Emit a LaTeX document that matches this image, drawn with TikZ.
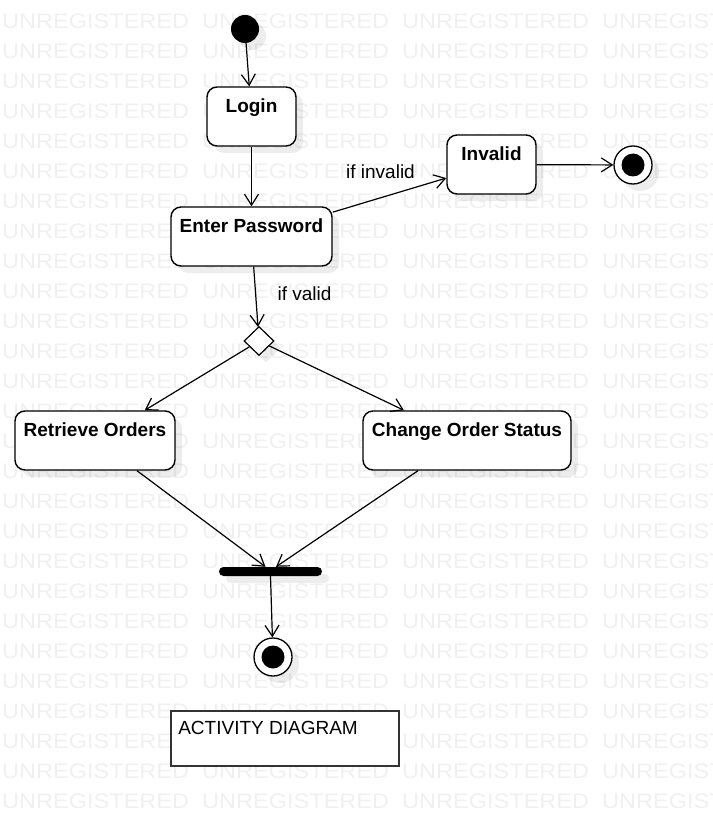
\documentclass[tikz,border=0pt]{standalone}
\usepackage{fontspec}
\setmainfont{Liberation Sans}
\usepackage{tikz}
\usetikzlibrary{arrows.meta}
\usetikzlibrary{shapes.geometric, shadows}
\tikzset{
  wmark/.style={text=black!6, font=\fontsize{21}{21}\selectfont, xscale=1.12, anchor=west, inner sep=0pt},
  soft/.style={drop shadow={shadow xshift=7pt, shadow yshift=-7pt, opacity=0.07, fill=black}},
  activity/.style={draw, line width=1.4pt, rounded corners=10pt, fill=white, soft, minimum height=59pt},
  title/.style={inner sep=0pt, anchor=north, yshift=-12pt, font=\fontsize{19}{19}\selectfont\bfseries},
  guard/.style={inner sep=0pt, font=\fontsize{19}{19}\selectfont},
  flow/.style={line width=1.2pt, arrows={-Straight Barb[length=11pt, width=14pt]}},
}

\begin{document}
\begin{tikzpicture}[x=1pt, y=-1pt]
    \useasboundingbox (0,0) rectangle (712,826);
    \clip (0,0) rectangle (712,826);
    % Watermark
    \foreach \r in {0,...,26}
      \foreach \c in {0,1,2,3}
        \node[wmark] (wm-\r-\c) at (2+200*\c, 21+30*\r) {UNREGISTERED};
    % States
    \node[circle, fill=black, minimum size=28pt, inner sep=0pt, soft] (start) at (245,29) {};
    \node[activity, minimum width=89pt, label={[title]north:Login}] (login) at (251.5,116.5) {};
    \node[activity, minimum width=161pt, label={[title]north:Enter Password}] (pass) at (251.5,236.5) {};
    \node[activity, minimum width=89pt, label={[title]north:Invalid}] (invalid) at (491.5,164.5) {};
    \node[circle, draw, line width=1.3pt, fill=white, minimum size=38pt, inner sep=0pt, soft] (stop1) at (633,165) {};
    \fill (stop1) circle (11.5pt);
    \node[diamond, draw, line width=1.2pt, fill=white, minimum width=30pt, minimum height=29pt, inner sep=0pt, soft] (choice) at (259,341) {};
    \node[activity, minimum width=160pt, label={[title]north:Retrieve Orders}] (fetch) at (95,440.5) {};
    \node[activity, minimum width=208pt, label={[title]north:Change Order Status}] (status) at (467,440.5) {};
    \node[fill=black, rounded corners=4.5pt, minimum width=103pt, minimum height=9pt, inner sep=0pt, soft] (join) at (270.5,571.5) {};
    \node[circle, draw, line width=1.3pt, fill=white, minimum size=38pt, inner sep=0pt, soft] (stop2) at (273,657) {};
    \fill (stop2) circle (11.5pt);
    % Note
    \node[draw=black!80, line width=1.8pt, fill=white, minimum width=228pt, minimum height=55pt,
          label={[guard, anchor=north west, xshift=8pt, yshift=-10.5pt]north west:ACTIVITY DIAGRAM}] (note) at (285,738.5) {};
    % Transitions
    \draw [flow] (start) -- (login);
    \draw [flow] (login) -- (pass);
    \draw [flow] (pass) -- (invalid);
    \node[guard] (lbl-invalid) at (380.5,172) {if invalid};
    \draw [flow] (invalid) -- (stop1);
    \draw [flow] (pass) -- (choice);
    \node[guard] (lbl-valid) at (304.5,294) {if valid};
    \draw [flow] (choice) -- (fetch);
    \draw [flow] (choice) -- (status);
    \draw [flow] ([xshift=42pt]fetch.south) -- ([xshift=-5pt]join.north);
    \draw [flow] ([xshift=-49pt]status.south) -- ([xshift=5.5pt]join.north);
    \draw [flow] (join.south) -- (stop2);
\end{tikzpicture}
\end{document}
